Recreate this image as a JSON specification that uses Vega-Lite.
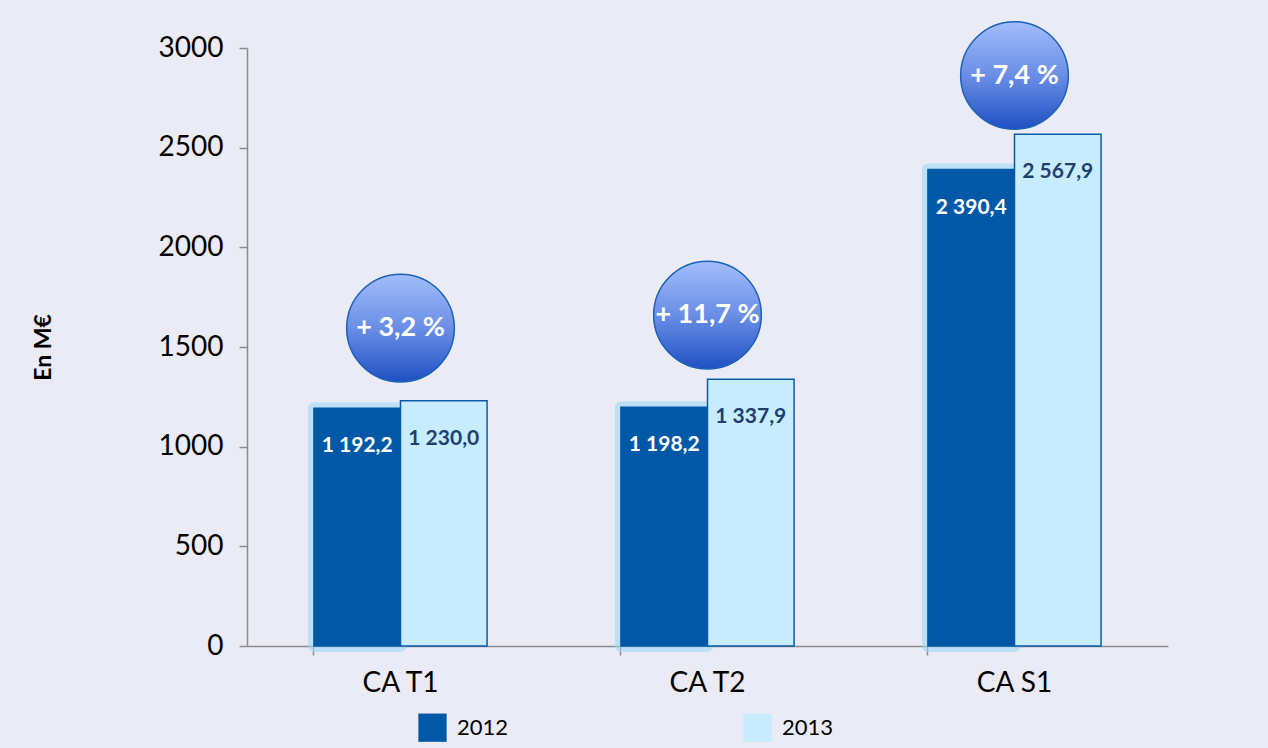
{
  "$schema": "https://vega.github.io/schema/vega-lite/v6.json",
  "autosize": "none",
  "width": 921,
  "height": 598,
  "padding": {"left": 247, "top": 48, "right": 100, "bottom": 102},
  "background": "#eaebf4",
  "config": {
    "view": {"stroke": null},
    "font": "Lato"
  },
  "datasets": {
    "bars": [
      {"cat": "CA T1", "year": "2012", "value": 1192.2, "label": "1 192,2"},
      {"cat": "CA T1", "year": "2013", "value": 1230.0, "label": "1 230,0"},
      {"cat": "CA T2", "year": "2012", "value": 1198.2, "label": "1 198,2"},
      {"cat": "CA T2", "year": "2013", "value": 1337.9, "label": "1 337,9"},
      {"cat": "CA S1", "year": "2012", "value": 2390.4, "label": "2 390,4"},
      {"cat": "CA S1", "year": "2013", "value": 2567.9, "label": "2 567,9"}
    ],
    "bubbles": [
      {"cat": "CA T1", "pos": 1595, "text": "+ 3,2 %"},
      {"cat": "CA T2", "pos": 1660, "text": "+ 11,7 %"},
      {"cat": "CA S1", "pos": 2862, "text": "+ 7,4 %"}
    ]
  },
  "encoding": {
    "x": {
      "field": "cat",
      "type": "nominal",
      "sort": ["CA T1", "CA T2", "CA S1"],
      "scale": {"paddingInner": 0.436, "paddingOuter": 0.218},
      "axis": {
        "title": null,
        "labelAngle": 0,
        "labelFontSize": 28,
        "labelColor": "#000000",
        "labelPadding": 14,
        "domainColor": "#8c8c8c",
        "domainWidth": 1.5,
        "tickColor": "#8c8c8c",
        "tickWidth": 1.5,
        "tickSize": 9,
        "bandPosition": 0
      }
    }
  },
  "layer": [
    {
      "data": {"name": "bars"},
      "transform": [{"filter": "datum.year == '2012'"}],
      "mark": {"type": "bar", "fill": "#0058a7", "stroke": "#9fd9f7", "strokeWidth": 12, "strokeOpacity": 0.6, "strokeJoin": "round"},
      "encoding": {
        "xOffset": {"field": "year", "type": "nominal", "scale": {"domain": ["2012", "2013"], "paddingInner": 0, "paddingOuter": 0}},
        "y": {
          "field": "value",
          "type": "quantitative",
          "scale": {"domain": [0, 3000], "nice": false},
          "axis": {
            "values": [0, 500, 1000, 1500, 2000, 2500, 3000],
            "format": "d",
            "grid": false,
            "title": "En M€",
            "titleFontSize": 23,
            "titleFontWeight": "bold",
            "titleColor": "#000000",
            "titlePadding": 103,
            "labelFontSize": 28,
            "labelColor": "#000000",
            "labelPadding": 16,
            "domainColor": "#8c8c8c",
            "domainWidth": 1.5,
            "tickColor": "#8c8c8c",
            "tickWidth": 1.5,
            "tickSize": 8
          }
        }
      }
    },
    {
      "data": {"name": "bars"},
      "mark": {"type": "bar"},
      "encoding": {
        "xOffset": {"field": "year", "type": "nominal", "scale": {"domain": ["2012", "2013"], "paddingInner": 0, "paddingOuter": 0}},
        "y": {"field": "value", "type": "quantitative"},
        "color": {
          "field": "year",
          "type": "nominal",
          "scale": {"domain": ["2012", "2013"], "range": ["#0058a7", "#c6ecfd"]},
          "legend": {
            "title": null,
            "orient": "none",
            "legendX": 171,
            "legendY": 665,
            "direction": "horizontal",
            "symbolType": "square",
            "symbolSize": 800,
            "symbolStrokeWidth": 0,
            "labelFontSize": 22,
            "labelColor": "#000000",
            "labelOffset": 10,
            "columnPadding": 234
          }
        },
        "stroke": {
          "condition": {"test": "datum.year == '2013'", "value": "#0b5aa7"},
          "value": "#0058a7"
        },
        "strokeWidth": {"value": 1.5}
      }
    },
    {
      "data": {"name": "bars"},
      "mark": {"type": "text", "fontWeight": "bold", "fontSize": 21, "baseline": "middle", "dy": 38},
      "encoding": {
        "xOffset": {"field": "year", "type": "nominal", "scale": {"domain": ["2012", "2013"], "paddingInner": 0, "paddingOuter": 0}},
        "y": {"field": "value", "type": "quantitative"},
        "text": {"field": "label"},
        "color": {
          "condition": {"test": "datum.year == '2012'", "value": "#ffffff"},
          "value": "#1e3f6f"
        }
      }
    },
    {
      "data": {"name": "bubbles"},
      "mark": {
        "type": "point",
        "shape": "circle",
        "filled": true,
        "size": 11600,
        "opacity": 1,
        "fill": {
          "gradient": "linear",
          "x1": 0, "y1": 0, "x2": 0, "y2": 1,
          "stops": [
            {"offset": 0, "color": "#a3bdfb"},
            {"offset": 0.5, "color": "#6a8ee6"},
            {"offset": 1, "color": "#1f50c2"}
          ]
        },
        "stroke": "#1b62b8",
        "strokeWidth": 1.5
      },
      "encoding": {
        "y": {"field": "pos", "type": "quantitative"}
      }
    },
    {
      "data": {"name": "bubbles"},
      "mark": {"type": "text", "fontWeight": "bold", "fontSize": 27, "color": "#ffffff", "baseline": "middle"},
      "encoding": {
        "y": {"field": "pos", "type": "quantitative"},
        "text": {"field": "text"}
      }
    }
  ]
}
